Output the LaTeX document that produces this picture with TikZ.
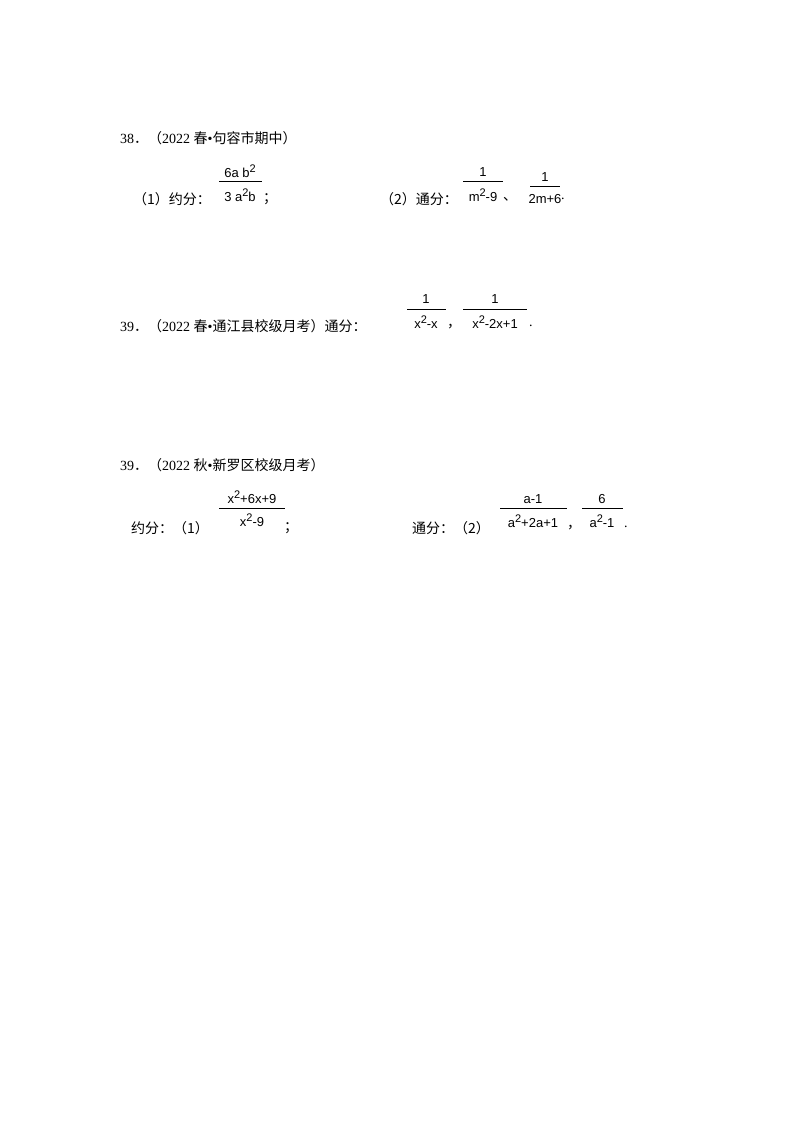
\documentclass[tikz,border=0pt]{standalone}
\usepackage{fontspec}
\setmainfont{Liberation Serif}
\newfontfamily\cjk{Noto Sans CJK SC}
\newfontfamily\mth{Liberation Sans}
\newcommand{\sqd}{\raisebox{5pt}{\fontsize{11}{12}\selectfont 2}}
\begin{document}
\begin{tikzpicture}[x=1pt,y=-1pt,
  txt/.style={anchor=west,inner sep=0pt,font=\fontsize{14}{16}\selectfont},
  mt/.style={inner sep=0pt,font=\mth\fontsize{13}{15}\selectfont},
  bar/.style={line width=0.8pt}]
\useasboundingbox (0,0) rectangle (800,1132);
% 38
\node[txt] (t38) at (120,138) {38{\cjk．（}2022 {\cjk 春}•{\cjk 句容市期中）}};
\node[txt] (a1) at (133,199) {\cjk（1）约分：};
\draw[bar] (219,181) -- (262,181);
\node[mt] (n1) at (240,171) {6a b\sqd};
\node[mt] (d1) at (240,195) {3 a\sqd b};
\node[txt] (s1) at (263,199) {\cjk ；};
\node[txt] (a2) at (380,199) {\cjk（2）通分：};
\draw[bar] (463,181) -- (503,181);
\node[mt] (n2) at (483,172) {1};
\node[mt] (d2) at (483,195) {m\sqd-9};
\node[txt] (s2) at (503,199) {\cjk 、};
\draw[bar] (530,186) -- (560,186);
\node[mt] (n3) at (545,177) {1};
\node[mt] (d3) at (545,199) {2m+6};
\node[txt] (s3) at (561,199) {.};
% 39a
\node[txt] (t39) at (120,326) {39{\cjk．（}2022 {\cjk 春}•{\cjk 通江县校级月考）通分：}};
\draw[bar] (407,309) -- (446,309);
\node[mt] (n4) at (426,299) {1};
\node[mt] (d4) at (426,322) {x\sqd-x};
\node[txt] (s4) at (447,327) {\cjk ，};
\draw[bar] (463,309) -- (527,309);
\node[mt] (n5) at (495,299) {1};
\node[mt] (d5) at (495,322) {x\sqd-2x+1};
\node[txt] (s5) at (529,326) {.};
% 39b
\node[txt] (t39b) at (120,465) {39{\cjk．（}2022 {\cjk 秋}•{\cjk 新罗区校级月考）}};
\node[txt] (b1) at (131,528) {\cjk 约分：（1）};
\draw[bar] (219,508) -- (285,508);
\node[mt] (n6) at (252,497) {x\sqd+6x+9};
\node[mt] (d6) at (252,520) {x\sqd-9};
\node[txt] (s6) at (284,528) {\cjk ；};
\node[txt] (b2) at (412,528) {\cjk 通分：（2）};
\draw[bar] (500,508) -- (567,508);
\node[mt] (n7) at (533,499) {a-1};
\node[mt] (d7) at (533,521) {a\sqd+2a+1};
\node[txt] (s7) at (567,528) {\cjk ，};
\draw[bar] (582,508) -- (623,508);
\node[mt] (n8) at (602,499) {6};
\node[mt] (d8) at (602,521) {a\sqd-1};
\node[txt] (s8) at (624,527) {.};
\end{tikzpicture}
\end{document}
